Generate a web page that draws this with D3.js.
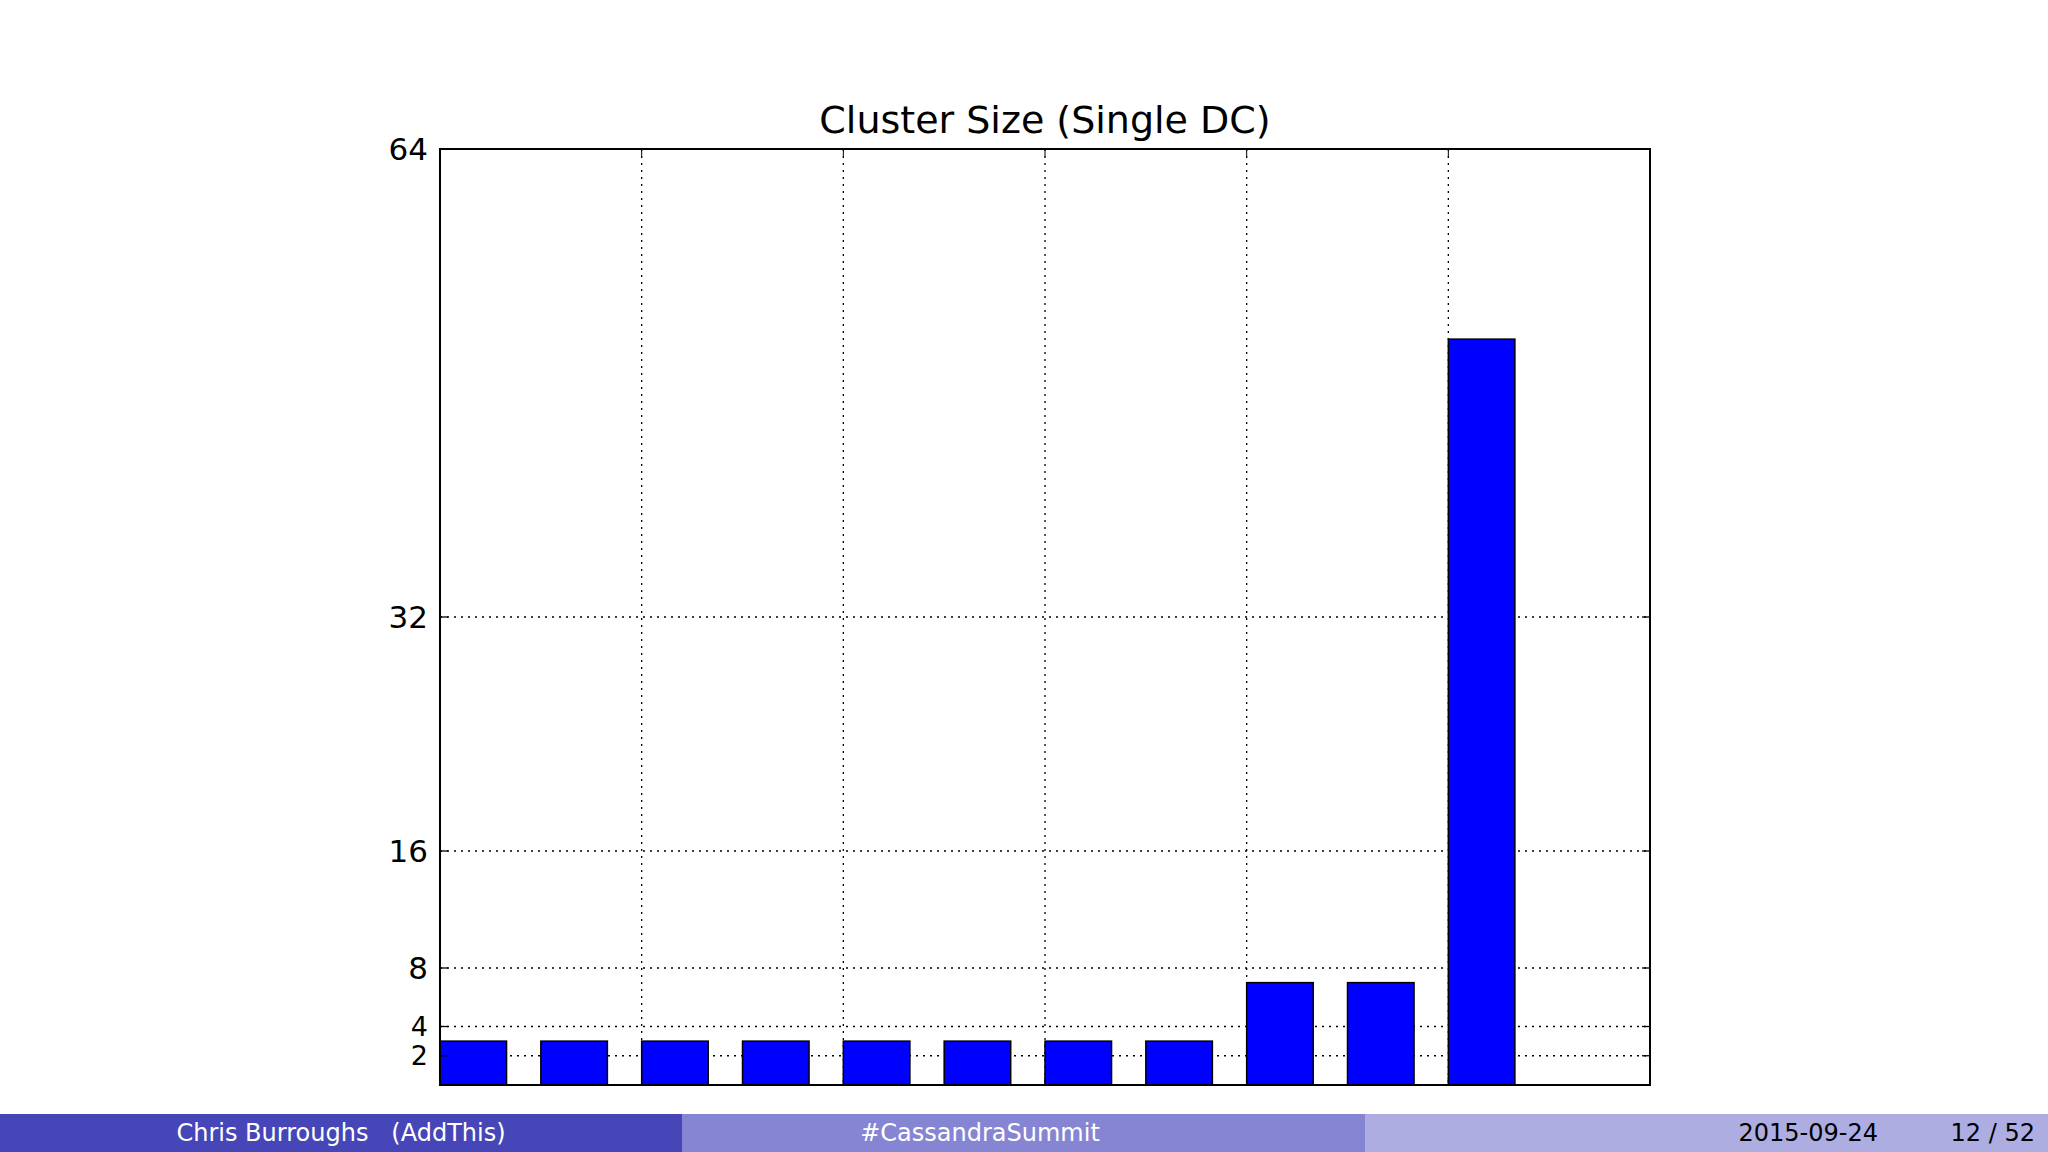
<!DOCTYPE html>
<html><head><meta charset="utf-8">
<script src="https://cdn.jsdelivr.net/npm/d3@7"></script>
<style>body{margin:0;background:#fff}svg{display:block}</style>
</head><body><svg id="c" width="2048" height="1152"></svg>
<script>
const barPositions=[0,0.5,1,1.5,2,2.5,3,3.5,4,4.5,5];
const barValues=[3,3,3,3,3,3,3,3,7,7,51];
const yTicks=[2,4,8,16,32,64];
const xGrid=[1,2,3,4,5];
const title="Cluster Size (Single DC)";
const footer=["Chris Burroughs   (AddThis)","#CassandraSummit","2015-09-24","12 / 52"];

const svg=d3.select("#c");
const L=440,R=1650,T=149,B=1085;
const x=d3.scaleLinear().domain([0,6]).range([L,R]);
const y=d3.scaleLinear().domain([0,64]).range([B,T]);
const font="DejaVu Sans";
const g=svg.append("g");
g.selectAll(".hg").data(yTicks).join("line").attr("x1",L).attr("x2",R).attr("y1",d=>y(d)).attr("y2",d=>y(d)).attr("stroke","#000").attr("stroke-dasharray","2,5").attr("stroke-width",1.3);
g.selectAll(".vg").data(xGrid).join("line").attr("x1",d=>x(d)).attr("x2",d=>x(d)).attr("y1",T).attr("y2",B).attr("stroke","#000").attr("stroke-dasharray","2,5").attr("stroke-width",1.3);
g.selectAll("rect.b").data(barValues).join("rect").attr("x",(d,i)=>x(barPositions[i])).attr("width",x(0.33)-x(0)).attr("y",d=>y(d)).attr("height",d=>B-y(d)).attr("fill","#0000ff").attr("stroke","#000").attr("stroke-width",1.5);
g.append("rect").attr("x",L).attr("y",T).attr("width",R-L).attr("height",B-T).attr("fill","none").attr("stroke","#000").attr("stroke-width",2);
yTicks.forEach(t=>{
 g.append("line").attr("x1",L).attr("x2",L+8).attr("y1",y(t)).attr("y2",y(t)).attr("stroke","#000").attr("stroke-width",1.3);
 g.append("line").attr("x1",R-8).attr("x2",R).attr("y1",y(t)).attr("y2",y(t)).attr("stroke","#000").attr("stroke-width",1.3);
 g.append("text").attr("x",L-12).attr("y",y(t)).attr("dy","0.35em").attr("text-anchor","end").attr("font-family",font).attr("font-size",t<=4?27:31).text(t);
});
xGrid.forEach(t=>{
 g.append("line").attr("x1",x(t)).attr("x2",x(t)).attr("y1",B).attr("y2",B-8).attr("stroke","#000");
 g.append("line").attr("x1",x(t)).attr("x2",x(t)).attr("y1",T).attr("y2",T+8).attr("stroke","#000");
});
g.append("text").attr("x",(L+R)/2).attr("y",133).attr("text-anchor","middle").attr("font-family",font).attr("font-size",38).text(title);
const fy=1114,fh=38;
[["#4646b9",0],["#8585d4",682],["#adade2",1365]].forEach(([c,x0])=>svg.append("rect").attr("x",x0).attr("y",fy).attr("width",683).attr("height",fh).attr("fill",c));
const ff="DejaVu Sans";
svg.append("text").attr("x",341).attr("y",fy+27).attr("text-anchor","middle").attr("fill","#fff").attr("font-family",ff).attr("font-size",24).style("white-space","pre").text(footer[0]);
svg.append("text").attr("x",980).attr("y",fy+27).attr("text-anchor","middle").attr("fill","#fff").attr("font-family",ff).attr("font-size",24).text(footer[1]);
svg.append("text").attr("x",1878).attr("y",fy+27).attr("text-anchor","end").attr("fill","#000").attr("font-family",ff).attr("font-size",24).text(footer[2]);
svg.append("text").attr("x",2035).attr("y",fy+27).attr("text-anchor","end").attr("fill","#000").attr("font-family",ff).attr("font-size",24).text(footer[3]);
</script></body></html>
